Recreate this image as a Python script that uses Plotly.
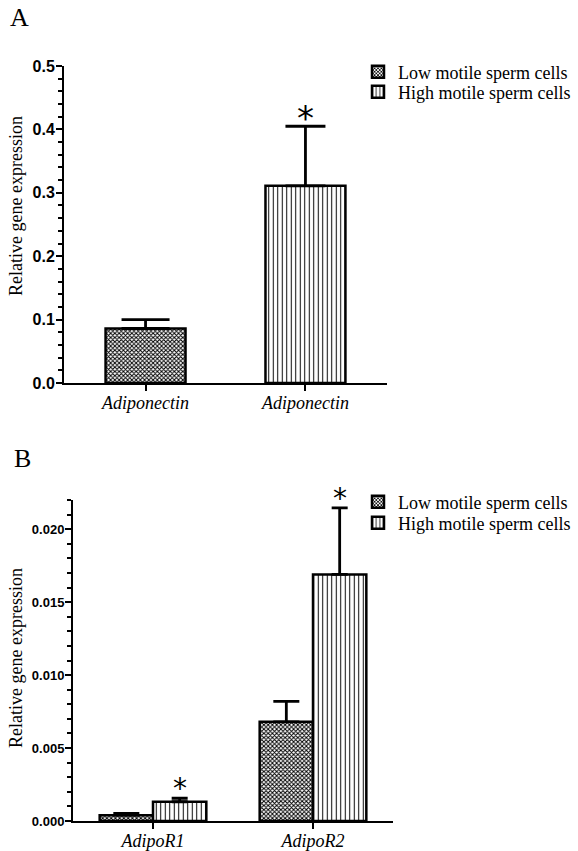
import plotly.graph_objects as go

# ---------------- data ----------------
groups = ["Low motile sperm cells", "High motile sperm cells"]

a_labels = ["Adiponectin", "Adiponectin"]
a_low = [0.086]
a_low_err = [0.014]
a_high = [0.311]
a_high_err = [0.094]

b_labels = ["AdipoR1", "AdipoR2"]
b_low = [0.0004, 0.0068]
b_low_err = [0.00012, 0.0014]
b_high = [0.00132, 0.0169]
b_high_err = [0.00024, 0.00456]

a_ticks_major = 0.1
a_ticks_minor = 0.02
b_ticks_major = 0.005
b_ticks_minor = 0.001

W, H = 578, 851
SERIF = "Liberation Serif"
SANS = "Liberation Sans"

low_pattern = dict(shape="x", size=3, solidity=0.55, fgcolor="black", bgcolor="white", fillmode="replace")
high_pattern = dict(shape="|", size=4.5, solidity=0.22, fgcolor="black", bgcolor="white", fillmode="replace")
line = dict(color="black", width=2.5)

fig = go.Figure()

# Panel A
fig.add_trace(go.Bar(
    x=[0], y=a_low, width=[0.5], offset=-0.25, name=groups[0],
    marker=dict(color="white", pattern=low_pattern, line=line),
    error_y=dict(type="data", array=a_low_err, arrayminus=[0] * len(a_low), symmetric=False,
                 color="black", thickness=2.8, width=24),
    xaxis="x", yaxis="y", legend="legend"))
fig.add_trace(go.Bar(
    x=[1], y=a_high, width=[0.5], offset=-0.25, name=groups[1],
    marker=dict(color="white", pattern=high_pattern, line=line),
    error_y=dict(type="data", array=a_high_err, arrayminus=[0] * len(a_high), symmetric=False,
                 color="black", thickness=2.8, width=20),
    xaxis="x", yaxis="y", legend="legend3"))

# Panel B
bw = 1 / 3
fig.add_trace(go.Bar(
    x=list(range(len(b_labels))), y=b_low, width=[bw] * len(b_low), offset=-bw, name=groups[0],
    marker=dict(color="white", pattern=low_pattern, line=line),
    error_y=dict(type="data", array=b_low_err, arrayminus=[0] * len(b_low), symmetric=False,
                 color="black", thickness=2.8, width=13),
    xaxis="x2", yaxis="y2", legend="legend2"))
fig.add_trace(go.Bar(
    x=list(range(len(b_labels))), y=b_high, width=[bw] * len(b_high), offset=0, name=groups[1],
    marker=dict(color="white", pattern=high_pattern, line=line),
    error_y=dict(type="data", array=b_high_err, arrayminus=[0] * len(b_high), symmetric=False,
                 color="black", thickness=2.8, width=8),
    xaxis="x2", yaxis="y2", legend="legend4"))

xfont = dict(family=SERIF, size=18, color="black", style="italic", weight="normal")
common_x = dict(showline=True, linecolor="black", linewidth=2, ticks="outside", ticklen=6,
                tickwidth=2, tickcolor="black", showgrid=False, zeroline=False, automargin=False,
                ticklabelstandoff=-4, tickfont=xfont)
common_y = dict(showline=True, linecolor="black", linewidth=2, ticks="outside", ticklen=6,
                tickwidth=2, tickcolor="black", showgrid=False, zeroline=False, automargin=False,
                ticklabelstandoff=-2,
                tickfont=dict(family=SANS, size=16, color="black", weight="bold"))


def leg(ypix):
    return dict(x=358 / W, y=1 - ypix / H, xanchor="left", yanchor="middle",
                font=dict(family=SERIF, size=18, color="black"), bgcolor="rgba(0,0,0,0)")


fig.update_layout(
    template="none",
    width=W, height=H, margin=dict(l=0, r=0, t=0, b=0, pad=0, autoexpand=False),
    paper_bgcolor="white", plot_bgcolor="white", barmode="overlay", showlegend=True,
    xaxis=dict(domain=[64 / W, 387 / W], range=[-0.51, 1.51], anchor="y",
               tickvals=[0, 1], ticktext=a_labels, **common_x),
    yaxis=dict(domain=[1 - 383 / H, 1 - 66 / H], range=[0, 0.5], anchor="x",
               dtick=a_ticks_major, tickformat=".1f",
               minor=dict(dtick=a_ticks_minor, ticks="outside", ticklen=4, tickwidth=1.5, tickcolor="black"),
               **common_y),
    xaxis2=dict(domain=[73 / W, 393 / W], range=[-0.5, 1.5], anchor="y2",
                tickvals=[0, 1], ticktext=b_labels, **common_x),
    yaxis2=dict(domain=[1 - 821 / H, 1 - 500 / H], range=[0, 0.022], anchor="x2",
                dtick=b_ticks_major, tickformat=".3f",
                minor=dict(dtick=b_ticks_minor, ticks="outside", ticklen=4, tickwidth=1.5, tickcolor="black"),
                **dict(common_y, tickfont=dict(family=SANS, size=13, color="black", weight="bold"))),
    legend=leg(72),
    legend3=leg(92),
    legend2=leg(502),
    legend4=leg(523),
)

ann = []
# panel letters
ann.append(dict(text="A", x=19 / W, y=1 - 17 / H, xref="paper", yref="paper", showarrow=False,
                xanchor="center", yanchor="middle", font=dict(family=SERIF, size=26, color="black")))
ann.append(dict(text="B", x=22.5 / W, y=1 - 458.5 / H, xref="paper", yref="paper", showarrow=False,
                xanchor="center", yanchor="middle", font=dict(family=SERIF, size=26, color="black")))
# y titles
ann.append(dict(text="Relative gene expression", x=16 / W, y=1 - 206 / H, xref="paper", yref="paper",
                xanchor="center", yanchor="middle",
                showarrow=False, textangle=-90, font=dict(family=SERIF, size=18, color="black")))
ann.append(dict(text="Relative gene expression", x=16 / W, y=1 - 658 / H, xref="paper", yref="paper",
                xanchor="center", yanchor="middle",
                showarrow=False, textangle=-90, font=dict(family=SERIF, size=18, color="black")))
# asterisks
ann.append(dict(text="*", x=1, y=a_high[0] + a_high_err[0], xref="x", yref="y", showarrow=False,
                yanchor="bottom", yshift=-14, font=dict(family="DejaVu Sans", size=34, color="black")))
for i in range(len(b_labels)):
    ann.append(dict(text="*", x=i + bw / 2, y=b_high[i] + b_high_err[i], xref="x2", yref="y2",
                    showarrow=False, yanchor="bottom", yshift=-9,
                    font=dict(family="DejaVu Sans", size=28, color="black")))
fig.update_layout(annotations=ann)

fig.write_html("out.html", config={"displayModeBar": False},
               post_script="document.body.style.margin='0px';")
